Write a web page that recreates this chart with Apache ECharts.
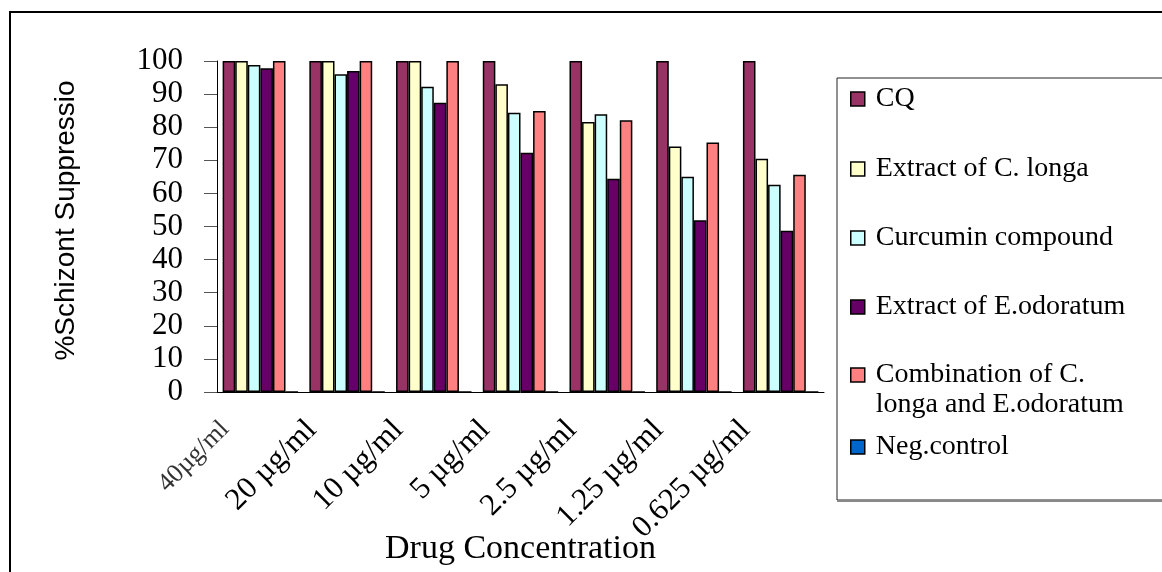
<!DOCTYPE html>
<html>
<head>
<meta charset="utf-8">
<script src="https://cdn.jsdelivr.net/npm/echarts@6/dist/echarts.min.js"></script>
<style>
  html, body { margin: 0; padding: 0; background: #fff; }
  #chart { width: 1162px; height: 572px; }
</style>
</head>
<body>
<div id="chart"></div>
<script>
// data
var categories = ['40µg/ml', '20 µg/ml', '10 µg/ml', '5 µg/ml', '2.5 µg/ml', '1.25 µg/ml', '0.625 µg/ml'];
var seriesNames = ['CQ', 'Extract of C. longa', 'Curcumin compound', 'Extract of E.odoratum',
    'Combination of C. longa and E.odoratum', 'Neg.control'];
var cqValues = [100, 100, 100, 100, 100, 100, 100];
var cLongaValues = [100, 100, 100, 93, 81.6, 74.2, 70.5];
var curcuminValues = [98.8, 96, 92.2, 84.4, 83.9, 65, 62.6];
var eOdoratumValues = [97.8, 97, 87.4, 72.3, 64.4, 51.9, 48.7];
var combinationValues = [100, 100, 100, 84.9, 82.1, 75.4, 65.6];
var negControlValues = [0, 0, 0, 0, 0, 0, 0];
var yMin = 0, yMax = 100, yInterval = 10;

var seriesValues = [cqValues, cLongaValues, curcuminValues, eOdoratumValues, combinationValues, negControlValues];
var seriesColors = ['#993366', '#FFFFCC', '#CCFFFF', '#660066', '#FF8080', '#0066CC'];

var myChart = echarts.init(document.getElementById('chart'));

// one legend per entry so the spacing follows the picture
var legendCenters = [98, 168, 237, 306, 375, 446];
var legends = seriesNames.map(function (name, i) {
    var twoLines = name.indexOf('Combination') === 0;
    return {
        data: [name],
        left: 845,
        top: twoLines ? legendCenters[i] - 50 : legendCenters[i] - 19,
        padding: 5,
        itemWidth: 14,
        itemHeight: 14,
        selectedMode: false,
        icon: 'rect',
        itemStyle: { borderColor: '#000', borderWidth: 1.5 },
        formatter: function (n) {
            return twoLines ? '\nCombination of C.\nlonga and E.odoratum' : n;
        },
        textStyle: {
            fontFamily: 'Liberation Serif',
            fontSize: 28,
            lineHeight: 30,
            color: '#000',
            padding: [0, 0, 0, 6]
        }
    };
});

var option = {
    backgroundColor: '#fff',
    animation: false,
    grid: { left: 217, top: 61, right: 338, bottom: 180, outerBoundsMode: 'none', containLabel: false },
    legend: legends,
    graphic: [
        { type: 'rect', shape: { x: 10, y: 12, width: 1180, height: 600 },
          style: { fill: 'none', stroke: '#000', lineWidth: 2 }, silent: true },
        { type: 'rect', shape: { x: 837, y: 78, width: 400, height: 422 },
          style: { fill: 'none', stroke: '#222', lineWidth: 1 }, silent: true },
        { type: 'line', shape: { x1: 837, y1: 501, x2: 1162, y2: 501 },
          style: { stroke: '#888', lineWidth: 2 }, silent: true }
    ],
    xAxis: {
        type: 'category',
        data: categories,
        name: 'Drug Concentration',
        nameLocation: 'middle',
        nameGap: 140,
        nameMoveOverlap: false,
        nameTextStyle: { fontFamily: 'Liberation Serif', fontSize: 34, color: '#000' },
        axisLine: { lineStyle: { color: '#000', width: 1 } },
        axisTick: { length: 10, lineStyle: { color: '#555' } },
        axisLabel: {
            rotate: 45,
            margin: -2,
            padding: [0, 50, 0, 0],
            fontFamily: 'Liberation Serif',
            fontSize: 31,
            color: '#000',
            interval: 0,
            formatter: function (v, i) {
                return i === 0 ? '{s|' + v + '}' : v;
            },
            rich: {
                s: { fontFamily: 'Liberation Serif', fontSize: 26, color: '#333' }
            }
        }
    },
    yAxis: {
        type: 'value',
        min: yMin,
        max: yMax,
        interval: yInterval,
        name: '%Schizont Suppressio',
        nameLocation: 'middle',
        nameGap: 137,
        nameTextStyle: {
            fontFamily: 'Liberation Sans', fontSize: 28, color: '#000',
            padding: [0, 0, 0, 12]
        },
        axisLine: { show: true, lineStyle: { color: '#000', width: 1 } },
        axisTick: { show: true, length: 13, lineStyle: { color: '#555' } },
        axisLabel: { margin: 34, fontFamily: 'Liberation Serif', fontSize: 31, color: '#000' },
        splitLine: { show: false }
    },
    series: seriesNames.map(function (name, i) {
        return {
            name: name,
            type: 'bar',
            data: seriesValues[i],
            barGap: '0%',
            barCategoryGap: '13%',
            itemStyle: { color: seriesColors[i], borderColor: '#000', borderWidth: 1.5 }
        };
    })
};

myChart.setOption(option);
</script>
</body>
</html>
